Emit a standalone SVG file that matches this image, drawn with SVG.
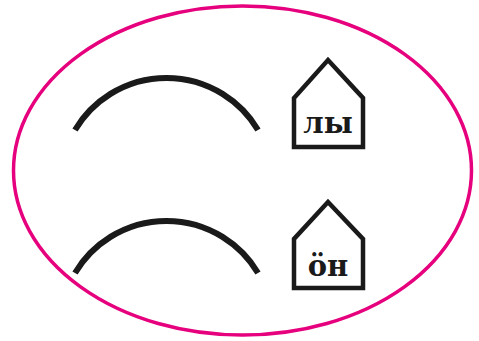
<svg xmlns="http://www.w3.org/2000/svg" width="479" height="341" viewBox="0 0 479 341">
<style>
.arc{fill:none;stroke:#1a1a1a;stroke-width:6}
.house{fill:#fff;stroke:#1a1a1a;stroke-width:4.5;stroke-linejoin:miter}
.lbl{font-family:"DejaVu Serif","Liberation Serif",serif;font-size:29px;font-weight:bold;fill:#1a1a1a;text-anchor:middle}
</style>
<rect width="479" height="341" fill="#fff"/>
<ellipse cx="242.5" cy="170.5" rx="229" ry="164.5" fill="none" stroke="#e6007e" stroke-width="3.5"/>
<g id="connectors">
<path class="arc" d="M75 130 A106.5 106.5 0 0 1 258 130"/>
<path class="arc" d="M75 273 A106.5 106.5 0 0 1 258 273"/>
</g>
<g id="house1">
<path class="house" d="M294 147 V98 L328 60 L363 98 V147 Z"/>
<text class="lbl" x="328" y="133">лы</text>
</g>
<g id="house2">
<path class="house" d="M294 288 V239 L328 202 L363 239 V288 Z"/>
<text class="lbl" x="328" y="276">ӧн</text>
</g>
</svg>
